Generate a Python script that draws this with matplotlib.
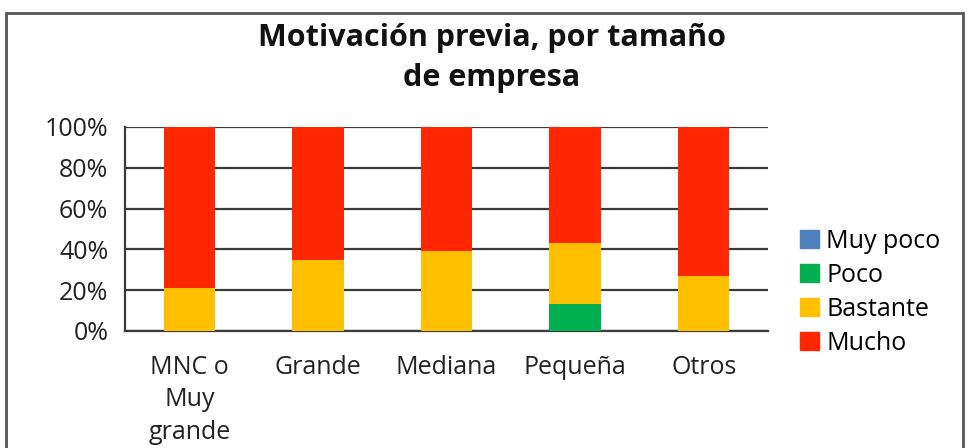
import matplotlib.pyplot as plt
from matplotlib.patches import Rectangle, Patch
import numpy as np

categorias = ['MNC o\nMuy\ngrande', 'Grande', 'Mediana', 'Pequeña', 'Otros']
muy_poco = [0, 0, 0, 0, 0]
poco = [0, 0, 0, 13, 0]
bastante = [21, 35, 39, 30, 27]
mucho = [79, 65, 61, 57, 73]

series = ['Muy poco', 'Poco', 'Bastante', 'Mucho']
colores = ['#4F81BD', '#00B050', '#FFC000', '#FF2600']

plt.rcParams['font.family'] = ['Open Sans', 'DejaVu Sans']
FONT_SIZE = 18

fig = plt.figure(figsize=(9.68, 4.48), dpi=100)
ax = fig.add_axes([125/968, 1 - 331/448, (768-125)/968, (331-127)/448])

x = np.arange(len(categorias))
base = np.zeros(len(categorias))
for vals, nombre, col in zip([muy_poco, poco, bastante, mucho], series, colores):
    ax.bar(x, vals, width=0.4, bottom=base, color=col, label=nombre, zorder=3)
    base += np.array(vals)

ax.set_ylim(0, 100)
ax.set_xlim(-0.5, len(categorias) - 0.5)
ax.set_yticks(range(0, 101, 20))
ax.set_yticklabels(['%d%%' % v for v in range(0, 101, 20)], fontsize=FONT_SIZE, color='#222222')
ax.set_xticks(x)
ax.set_xticklabels(categorias, fontsize=FONT_SIZE, color='#222222', linespacing=1.4)
ax.tick_params(axis='y', length=0, pad=12)
ax.tick_params(axis='x', length=0, pad=17)
ax.grid(axis='y', color='#3a3a3a', linewidth=1.6, zorder=1)
for s in ['top', 'right']:
    ax.spines[s].set_visible(False)
ax.spines['left'].set_color('#3a3a3a')
ax.spines['left'].set_linewidth(1.6)
ax.spines['bottom'].set_color('#3a3a3a')
ax.spines['bottom'].set_linewidth(1.6)

handles = [Patch(color=c, label=n) for n, c in zip(series, colores)]
fig.legend(handles=handles, loc='upper left', bbox_to_anchor=(790/968, 1 - 219/448),
           frameon=False, fontsize=FONT_SIZE, handlelength=0.75, handleheight=0.75,
           handletextpad=0.3, labelspacing=0.36, borderaxespad=0)

fig.text(492/968, 1 - 58/448, 'Motivación previa, por tamaño\nde empresa', ha='center', va='center',
         fontsize=22, fontweight='bold', linespacing=1.4, color='#111111')

fig.patches.append(Rectangle((6/968, -0.1), (963-6)/968, 1.1 - 13/448, transform=fig.transFigure,
                             fill=False, edgecolor='#555555', linewidth=2, clip_on=False))

plt.savefig('out.png', dpi=100)
